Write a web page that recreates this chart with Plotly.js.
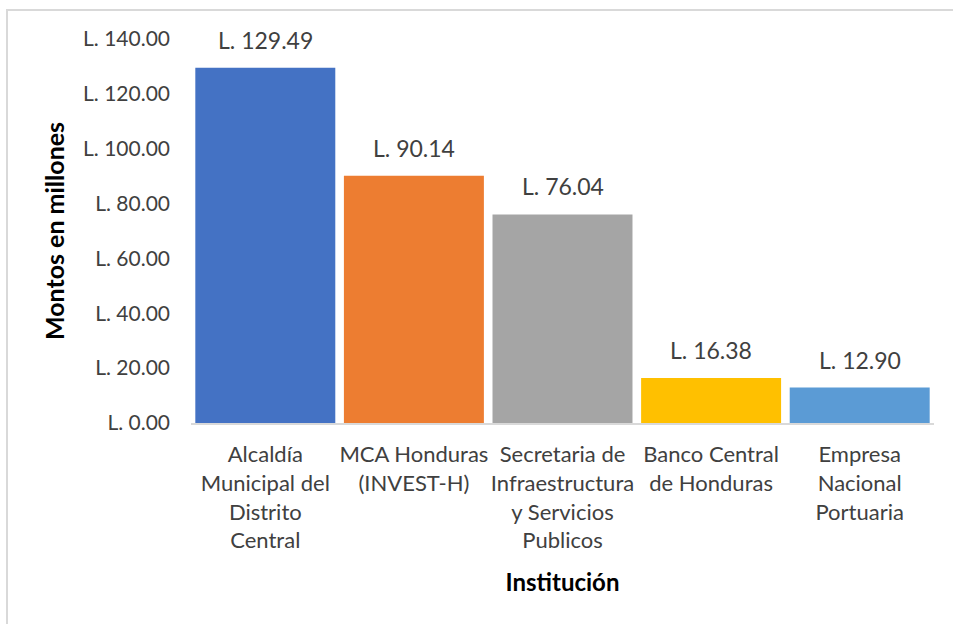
<!DOCTYPE html>
<html>
<head>
<meta charset="utf-8">
<script src="https://cdn.plot.ly/plotly-3.0.1.min.js"></script>
<style>
html,body{margin:0;padding:0;background:#fff;}
#wrap{position:relative;width:953px;height:624px;overflow:hidden;}
#chart{position:absolute;left:0;top:0;width:953px;height:624px;}
#frame{position:absolute;left:6px;top:9px;width:980px;height:640px;border:2px solid #d9d9d9;pointer-events:none;}
</style>
</head>
<body>
<div id="wrap"><div id="chart"></div><div id="frame"></div></div>
<script>
const categories = [
  "Alcaldía<br>Municipal del<br>Distrito<br>Central",
  "MCA Honduras<br>(INVEST-H)",
  "Secretaria de<br>Infraestructura<br>y Servicios<br>Publicos",
  "Banco Central<br>de Honduras",
  "Empresa<br>Nacional<br>Portuaria"
];
const values = [129.49, 90.14, 76.04, 16.38, 12.90];
const barColors = ["#4472C4", "#ED7D31", "#A5A5A5", "#FFC000", "#5B9BD5"];
const yTitle = "Montos en millones";
const xTitle = "Institución";

const FONT = "Lato, 'Open Sans', sans-serif";

const trace = {
  type: "bar",
  x: categories,
  y: values,
  marker: {color: barColors},
  hoverinfo: "skip"
};

const annotations = values.map((v, i) => ({
  x: categories[i], y: v, xref: "x", yref: "y",
  text: "L. " + v.toFixed(2),
  showarrow: false, yanchor: "bottom", yshift: 12,
  font: {family: FONT, size: 23, color: "#404040"}
}));

const layout = {
  width: 953, height: 624,
  margin: {l: 191, r: 19, t: 39, b: 201},
  paper_bgcolor: "#fff", plot_bgcolor: "#fff",
  showlegend: false,
  bargap: 0.058,
  font: {family: FONT, color: "#404040"},
  xaxis: {
    type: "category",
    showline: true, linecolor: "#d9d9d9", linewidth: 2,
    showgrid: false, zeroline: false,
    ticks: "", ticklabelstandoff: 11,
    tickfont: {family: FONT, size: 22, color: "#404040"},
    title: {text: xTitle, standoff: 22, font: {family: FONT, size: 24, color: "#000", weight: "bold"}}
  },
  yaxis: {
    range: [0, 140], dtick: 20, tick0: 0,
    tickprefix: "L. ", tickformat: ".2f",
    showline: false, showgrid: false, zeroline: false,
    ticks: "", ticklabelstandoff: 20,
    tickfont: {family: FONT, size: 21, color: "#404040"},
    title: {text: yTitle, standoff: 11, font: {family: FONT, size: 25, color: "#000", weight: "bold"}}
  },
  annotations: annotations
};

Plotly.newPlot("chart", [trace], layout, {displayModeBar: false, staticPlot: true});
</script>
</body>
</html>
